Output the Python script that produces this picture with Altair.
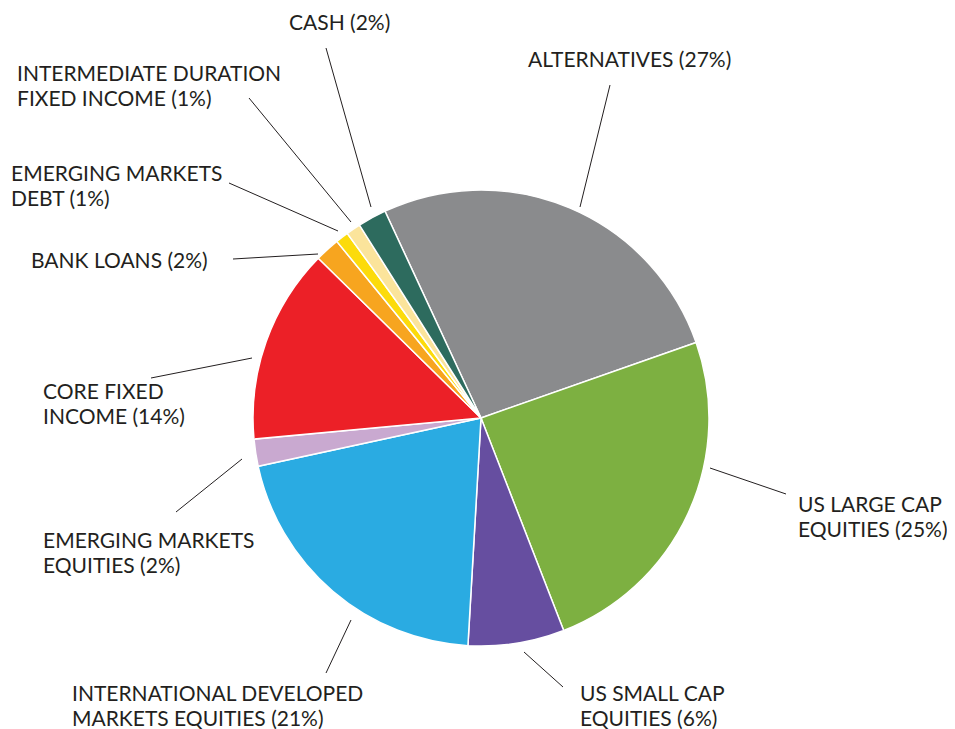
import math
import altair as alt
import pandas as pd

# ---- data ----
categories = [
    "ALTERNATIVES", "US LARGE CAP EQUITIES", "US SMALL CAP EQUITIES",
    "INTERNATIONAL DEVELOPED MARKETS EQUITIES", "EMERGING MARKETS EQUITIES",
    "CORE FIXED INCOME", "BANK LOANS", "EMERGING MARKETS DEBT",
    "INTERMEDIATE DURATION FIXED INCOME", "CASH",
]
values = [26.54, 24.47, 6.82, 20.69, 1.92, 13.83, 1.75, 0.92, 1.03, 2.03]
label_texts = [
    "ALTERNATIVES (27%)",
    "US LARGE CAP\nEQUITIES (25%)",
    "US SMALL CAP\nEQUITIES (6%)",
    "INTERNATIONAL DEVELOPED\nMARKETS EQUITIES (21%)",
    "EMERGING MARKETS\nEQUITIES (2%)",
    "CORE FIXED\nINCOME (14%)",
    "BANK LOANS (2%)",
    "EMERGING MARKETS\nDEBT (1%)",
    "INTERMEDIATE DURATION\nFIXED INCOME (1%)",
    "CASH (2%)",
]
colors = ["#8a8b8d", "#7db041", "#664ea0", "#2aabe2", "#c9a9d0",
          "#ec2027", "#f7a51f", "#fcdb0b", "#fbe49b", "#2d6b5e"]

# ---- layout (page pixel coordinates for annotations) ----
W, H = 939, 721
CX, CY, R = 481, 418, 228
start_deg = 335.1
label_pos = [  # left x, first baseline y
    (528, 67), (798, 512), (580, 701), (72, 701), (43, 548),
    (43, 399), (31, 268), (11, 181), (17, 81), (289, 30),
]
leader = [  # (x1, y1) at pie, (x2, y2) towards label
    (580, 207, 610, 85), (710, 468, 786, 494), (524, 652, 563, 687),
    (351, 620, 326, 673), (242, 459, 176, 512), (252, 358, 151, 378),
    (318, 254, 233, 259), (338, 231, 229, 183), (351, 222, 249, 98),
    (371, 207, 326, 48),
]

pie_df = pd.DataFrame({
    "category": categories,
    "value": values,
    "order": list(range(len(categories))),
    "cx": [CX] * len(categories),
    "cy": [CY] * len(categories),
})
lab_df = pd.DataFrame({
    "label": label_texts,
    "lx": [p[0] for p in label_pos],
    "ly": [p[1] for p in label_pos],
})
line_df = pd.DataFrame({
    "x1": [l[0] for l in leader], "y1": [l[1] for l in leader],
    "x2": [l[2] for l in leader], "y2": [l[3] for l in leader],
})

xs = alt.Scale(domain=[8, 8 + W], nice=False, zero=False)
ys = alt.Scale(domain=[8, 8 + H], nice=False, zero=False, reverse=True)
a0 = math.radians(start_deg)

pie = alt.Chart(pie_df).mark_arc(outerRadius=R, stroke="white", strokeWidth=1.5).encode(
    x=alt.X("cx:Q", scale=xs, axis=None),
    y=alt.Y("cy:Q", scale=ys, axis=None),
    theta=alt.Theta("value:Q", stack=True, scale=alt.Scale(range=[a0, a0 + 2 * math.pi])),
    color=alt.Color("category:N", scale=alt.Scale(domain=categories, range=colors), legend=None),
    order=alt.Order("order:Q"),
)

lines = alt.Chart(line_df).mark_rule(color="#231f20", strokeWidth=1).encode(
    x=alt.X("x1:Q", scale=xs, axis=None),
    y=alt.Y("y1:Q", scale=ys, axis=None),
    x2="x2:Q",
    y2="y2:Q",
)

labels = alt.Chart(lab_df).mark_text(
    align="left", baseline="alphabetic", font="Lato", fontSize=21,
    color="#231f20", lineBreak="\n", lineHeight=25,
).encode(
    x=alt.X("lx:Q", scale=xs, axis=None),
    y=alt.Y("ly:Q", scale=ys, axis=None),
    text="label:N",
)

chart = alt.layer(pie, lines, labels).properties(
    width=W, height=H, autosize=alt.AutoSizeParams(type="none"), padding=0,
).configure_view(stroke=None)

chart.save("out.html", embed_options={"renderer": "svg", "actions": False})
